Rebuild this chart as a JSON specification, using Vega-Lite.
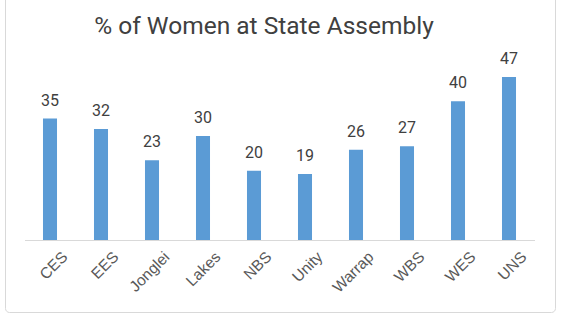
{
  "$schema": "https://vega.github.io/schema/vega-lite/v6.json",
  "width": 550,
  "height": 317,
  "autosize": {"type": "none"},
  "padding": {"left": 5, "top": -5, "right": 13, "bottom": 10},
  "background": "white",
  "config": {
    "font": "Roboto",
    "view": {"stroke": "#d9d9d9", "strokeWidth": 1, "cornerRadius": 4}
  },
  "title": {
    "text": "% of Women at State Assembly",
    "font": "Roboto",
    "fontSize": 24.5,
    "fontWeight": "normal",
    "color": "#404040",
    "anchor": "middle",
    "frame": "group",
    "dx": -16,
    "offset": -44
  },
  "data": {
    "values": [
      {"state": "CES", "pct": 35},
      {"state": "EES", "pct": 32},
      {"state": "Jonglei", "pct": 23},
      {"state": "Lakes", "pct": 30},
      {"state": "NBS", "pct": 20},
      {"state": "Unity", "pct": 19},
      {"state": "Warrap", "pct": 26},
      {"state": "WBS", "pct": 27},
      {"state": "WES", "pct": 40},
      {"state": "UNS", "pct": 47}
    ]
  },
  "encoding": {
    "x": {
      "field": "state",
      "type": "nominal",
      "sort": null,
      "scale": {"range": [19.5, 529.5], "paddingInner": 0.725, "paddingOuter": 0.3625},
      "axis": {
        "title": null,
        "offset": -72,
        "labelAngle": -45,
        "labelAlign": "right",
        "labelBaseline": "top",
        "labelFontSize": 15.5,
        "labelColor": "#595959",
        "labelFont": "Liberation Sans",
        "labelOffset": 10,
        "labelPadding": 9,
        "ticks": false,
        "domainColor": "#d9d9d9",
        "domainWidth": 1,
        "grid": false
      }
    },
    "y": {
      "field": "pct",
      "type": "quantitative",
      "scale": {"domain": [0, 50], "range": [245, 71.6], "nice": false, "zero": true},
      "axis": null
    }
  },
  "layer": [
    {"mark": {"type": "bar", "color": "#5B9BD5"}},
    {
      "mark": {"type": "text", "baseline": "alphabetic", "dy": -13, "fontSize": 16, "color": "#404040", "font": "Roboto"},
      "encoding": {"text": {"field": "pct", "type": "quantitative"}}
    }
  ]
}
